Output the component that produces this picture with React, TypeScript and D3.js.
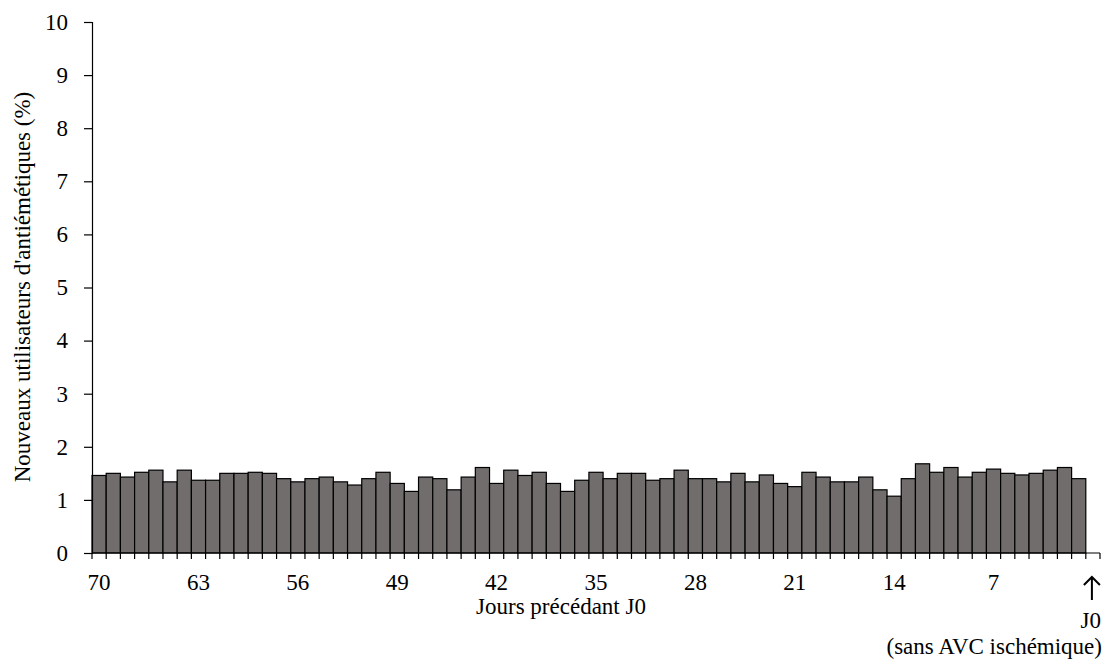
import { useEffect, useRef } from "react";
import * as d3 from "d3";

// jours avant J0 (70 -> 1), J0 = case vide à droite
const days = d3.range(70, -1, -1);
const values = [
  1.46, 1.5, 1.43, 1.52, 1.56, 1.34, 1.56, 1.37, 1.37, 1.5,
  1.5, 1.52, 1.5, 1.4, 1.34, 1.4, 1.43, 1.34, 1.28, 1.4,
  1.52, 1.31, 1.16, 1.43, 1.4, 1.19, 1.43, 1.61, 1.31, 1.56,
  1.46, 1.52, 1.31, 1.16, 1.37, 1.52, 1.4, 1.5, 1.5, 1.37,
  1.4, 1.56, 1.4, 1.4, 1.34, 1.5, 1.34, 1.47, 1.31, 1.25,
  1.52, 1.43, 1.34, 1.34, 1.43, 1.19, 1.07, 1.4, 1.68, 1.52,
  1.61, 1.43, 1.52, 1.58, 1.5, 1.47, 1.5, 1.56, 1.61, 1.4,
];
const xTickLabels = [70, 63, 56, 49, 42, 35, 28, 21, 14, 7];
const yTicks = d3.range(0, 11);

export default function App() {
  const svgRef = useRef<SVGSVGElement>(null);

  useEffect(() => {
    const width = 1106;
    const height = 664;
    const margin = { top: 22, right: 6, bottom: 111, left: 92 };
    const font = "Liberation Serif, Times New Roman, serif";
    const fs = 23;

    const svg = d3.select(svgRef.current)
      .attr("width", width)
      .attr("height", height)
      .style("background", "#ffffff");

    svg.selectAll("*").remove();

    const x = d3.scaleBand<number>()
      .domain(days)
      .range([margin.left, width - margin.right])
      .padding(0);

    const y = d3.scaleLinear()
      .domain([0, 10])
      .range([height - margin.bottom, margin.top]);

    const bars = days.slice(0, values.length).map((d, i) => ({ day: d, v: values[i] }));

    // bars
    svg.append("g")
      .selectAll("rect")
      .data(bars)
      .join("rect")
      .attr("x", d => x(d.day)!)
      .attr("y", d => y(d.v))
      .attr("width", x.bandwidth())
      .attr("height", d => y(0) - y(d.v))
      .attr("fill", "#716d6c")
      .attr("stroke", "#000")
      .attr("stroke-width", 1.2);

    // y axis
    const yAxis = svg.append("g")
      .attr("transform", `translate(${margin.left}, 0)`)
      .call(d3.axisLeft(y).tickValues(yTicks).tickSize(8).tickPadding(16).tickFormat(d3.format("d")));
    yAxis.selectAll("text").attr("font-family", font).attr("font-size", fs).attr("fill", "#000");
    yAxis.selectAll("line, path").attr("stroke", "#000").attr("stroke-width", 1.2);

    // x axis line + slot edge ticks
    const xAxis = svg.append("g");
    xAxis.append("line")
      .attr("x1", margin.left).attr("x2", width - margin.right)
      .attr("y1", y(0)).attr("y2", y(0))
      .attr("stroke", "#000").attr("stroke-width", 1.2);
    const edges = days.map(d => x(d)!).concat([x.range()[1]]);
    xAxis.selectAll("line.tick")
      .data(edges)
      .join("line")
      .attr("class", "tick")
      .attr("x1", d => d).attr("x2", d => d)
      .attr("y1", y(0)).attr("y2", y(0) + 6)
      .attr("stroke", "#000").attr("stroke-width", 1.2);

    xAxis.selectAll("text")
      .data(xTickLabels)
      .join("text")
      .attr("x", d => x(d)! + x.bandwidth() / 2)
      .attr("y", y(0) + 37)
      .attr("text-anchor", "middle")
      .attr("font-family", font)
      .attr("font-size", fs)
      .text(d => d);

    // J0 marker
    const j0x = x(0)! + x.bandwidth() / 2 - 1;
    svg.append("path")
      .attr("d", `M${j0x},${y(0) + 47} V${y(0) + 24} M${j0x - 8},${y(0) + 32} L${j0x},${y(0) + 24} L${j0x + 8},${y(0) + 32}`)
      .attr("fill", "none")
      .attr("stroke", "#000")
      .attr("stroke-width", 2);
    svg.append("text")
      .attr("x", width - 5)
      .attr("y", y(0) + 75)
      .attr("text-anchor", "end")
      .attr("font-family", font)
      .attr("font-size", fs)
      .text("J0");
    svg.append("text")
      .attr("x", width - 4)
      .attr("y", y(0) + 101)
      .attr("text-anchor", "end")
      .attr("font-family", font)
      .attr("font-size", fs)
      .text("(sans AVC ischémique)");

    // axis titles
    svg.append("text")
      .attr("x", 561)
      .attr("y", y(0) + 61)
      .attr("text-anchor", "middle")
      .attr("font-family", font)
      .attr("font-size", fs)
      .text("Jours précédant J0");

    svg.append("text")
      .attr("transform", `translate(30, 287) rotate(-90)`)
      .attr("text-anchor", "middle")
      .attr("font-family", font)
      .attr("font-size", fs)
      .text("Nouveaux utilisateurs d'antiémétiques (%)");
  }, []);

  return <svg ref={svgRef} style={{ position: "absolute", left: 0, top: 0 }}></svg>;
}
